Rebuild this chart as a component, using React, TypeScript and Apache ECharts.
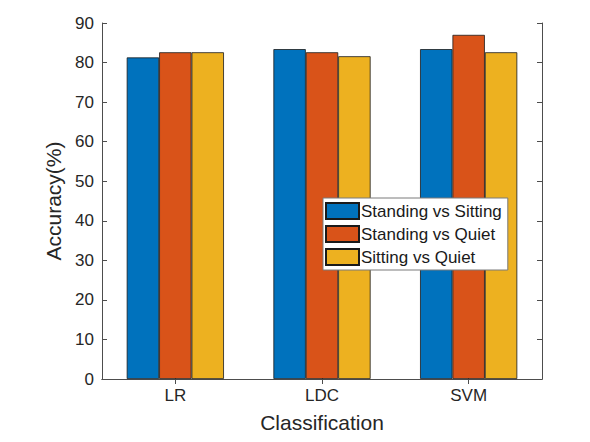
import React, { useEffect, useRef } from "react";
import * as echarts from "echarts";

const categories = ["LR", "LDC", "SVM"];
const seriesNames = ["Standing vs Sitting", "Standing vs Quiet", "Sitting vs Quiet"];
const standingVsSitting = [81.3, 83.4, 83.4];
const standingVsQuiet = [82.6, 82.6, 87.0];
const sittingVsQuiet = [82.6, 81.6, 82.6];
const yTicks = { min: 0, max: 90, interval: 10 };
const colors = ["#0072BD", "#D95319", "#EDB120"];

export default function App() {
  const ref = useRef<HTMLDivElement>(null);
  useEffect(() => {
    if (!ref.current) return;
    const chart = echarts.init(ref.current, null, { renderer: "svg" });
    const font = "Liberation Sans, Arial, sans-serif";
    const axisColor = "#4d4d4d";
    const data = [standingVsSitting, standingVsQuiet, sittingVsQuiet];
    chart.setOption({
      animation: false,
      backgroundColor: "#ffffff",
      textStyle: { fontFamily: font },
      grid: { left: 102, right: 48, top: 23, bottom: 63, containLabel: false },
      legend: {
        orient: "vertical",
        left: 323,
        top: 198,
        itemWidth: 33,
        itemHeight: 16,
        itemGap: 5,
        padding: [4, 6, 4, 2],
        backgroundColor: "#ffffff",
        borderColor: "#7a7a7a",
        borderWidth: 1,
        borderRadius: 0,
        icon: "rect",
        textStyle: { fontFamily: font, fontSize: 17, lineHeight: 17, color: "#1a1a1a", padding: [0, 0, 0, -3] },
        data: seriesNames,
      },
      xAxis: [
        {
          type: "category",
          data: categories,
          position: "bottom",
          name: "Classification",
          nameLocation: "middle",
          nameGap: 33,
          nameTextStyle: { fontSize: 21, color: "#262626", fontFamily: font },
          axisLine: { lineStyle: { color: axisColor, width: 1 } },
          axisTick: { show: true, inside: true, alignWithLabel: true, length: 5, lineStyle: { color: axisColor } },
          axisLabel: { fontSize: 17, color: "#262626", margin: 8, fontFamily: font },
          splitLine: { show: false },
        },
        {
          type: "category",
          data: categories,
          position: "top",
          axisLine: { show: true, lineStyle: { color: axisColor, width: 1 } },
          axisTick: { show: true, inside: true, alignWithLabel: true, length: 5, lineStyle: { color: axisColor } },
          axisLabel: { show: false },
          splitLine: { show: false },
        },
      ],
      yAxis: [
        {
          type: "value",
          min: yTicks.min,
          max: yTicks.max,
          interval: yTicks.interval,
          position: "left",
          name: "Accuracy(%)",
          nameLocation: "middle",
          nameGap: 36,
          nameRotate: 90,
          nameTextStyle: { fontSize: 21, color: "#262626", fontFamily: font },
          axisLine: { show: true, lineStyle: { color: axisColor, width: 1 } },
          axisTick: { show: true, inside: true, length: 5, lineStyle: { color: axisColor } },
          axisLabel: { fontSize: 17, color: "#262626", margin: 8, fontFamily: font },
          splitLine: { show: false },
        },
        {
          type: "value",
          min: yTicks.min,
          max: yTicks.max,
          interval: yTicks.interval,
          position: "right",
          axisLine: { show: true, lineStyle: { color: axisColor, width: 1 } },
          axisTick: { show: true, inside: true, length: 5, lineStyle: { color: axisColor } },
          axisLabel: { show: false },
          splitLine: { show: false },
        },
      ],
      series: seriesNames.map((name, i) => ({
        name,
        type: "bar",
        xAxisIndex: 0,
        yAxisIndex: 0,
        data: data[i],
        barWidth: 32.4,
        barGap: "0%",
        itemStyle: { color: colors[i], borderColor: "#1a1a1a", borderWidth: 0.8 },
      })),
    });
    return () => chart.dispose();
  }, []);
  return <div ref={ref} style={{ width: 590, height: 442, margin: -8 }} />;
}
